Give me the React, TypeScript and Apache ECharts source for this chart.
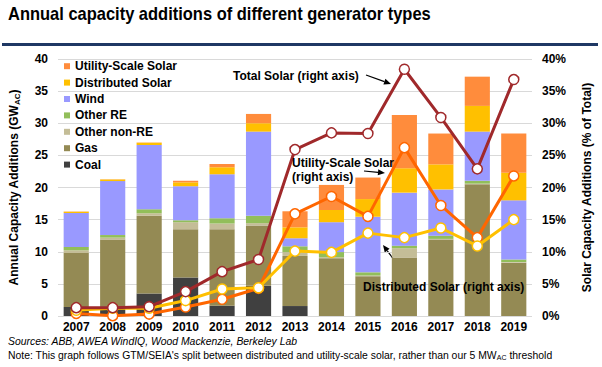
import React, { useEffect, useRef } from "react";
import * as echarts from "echarts";

const years = ["2007", "2008", "2009", "2010", "2011", "2012", "2013", "2014", "2015", "2016", "2017", "2018", "2019"];
const coal = [1.4, 1.5, 3.5, 6.0, 1.6, 4.7, 1.55, 0, 0, 0, 0, 0, 0];
const gas = [8.4, 10.4, 12.1, 7.5, 11.9, 9.4, 7.8, 9.0, 6.2, 9.1, 11.9, 20.5, 8.3];
const otherNonRE = [0.45, 0.3, 0.4, 1.1, 0.9, 0.35, 0.6, 0.15, 0.1, 1.45, 0.1, 0.1, 0.1];
const otherRE = [0.5, 0.4, 0.6, 0.3, 0.8, 1.15, 0.9, 0.8, 0.5, 0.4, 0.5, 0.45, 0.4];
const wind = [5.3, 8.4, 10.0, 5.3, 6.85, 13.1, 1.25, 4.65, 8.65, 8.25, 7.2, 7.65, 9.2];
const distSolar = [0.17, 0.25, 0.35, 0.6, 1.1, 1.3, 1.7, 1.9, 2.75, 3.8, 3.9, 4.0, 4.3];
const utilSolar = [0.06, 0.03, 0.05, 0.25, 0.5, 1.45, 2.5, 3.9, 3.35, 8.3, 4.8, 4.55, 6.1];

const totalSolarPct = [1.3, 1.3, 1.45, 3.8, 6.9, 8.8, 25.9, 28.5, 28.4, 38.4, 30.9, 22.9, 36.8];
const utilSolarPct = [0.4, 0.05, 0.3, 1.4, 2.6, 4.3, 15.9, 18.6, 15.5, 26.2, 17.2, 12.2, 21.8];
const distSolarPct = [0.9, 1.2, 1.2, 2.4, 4.2, 4.4, 10.1, 9.9, 12.9, 12.2, 13.7, 10.9, 15.0];

const leftTicks = { min: 0, max: 40, interval: 5 };
const rightTicks = { min: 0, max: 40, interval: 5 };

const FONT = "Liberation Sans, Arial, sans-serif";

function arrow(x1: number, y1: number, x2: number, y2: number) {
  const dx = x2 - x1;
  const dy = y2 - y1;
  const len = Math.sqrt(dx * dx + dy * dy);
  const ux = dx / len;
  const uy = dy / len;
  const L = 7;
  const W = 3;
  const bx = x2 - ux * L;
  const by = y2 - uy * L;
  return {
    type: "group",
    children: [
      { type: "line", shape: { x1, y1, x2: bx, y2: by }, style: { stroke: "#000", lineWidth: 1.2 } },
      {
        type: "polygon",
        shape: { points: [[x2, y2], [bx - uy * W, by + ux * W], [bx + uy * W, by - ux * W]] },
        style: { fill: "#000" },
      },
    ],
  };
}

function barSeries(name: string, data: number[], color: string) {
  return {
    name,
    type: "bar",
    stack: "cap",
    data,
    barCategoryGap: "31%",
    itemStyle: { color },
    z: 2,
  };
}

function lineSeries(name: string, data: number[], color: string, z: number) {
  return {
    name,
    type: "line",
    yAxisIndex: 1,
    data,
    symbol: "circle",
    symbolSize: 10,
    lineStyle: { color, width: 3 },
    itemStyle: { color: "#fff", borderColor: color, borderWidth: 1.5 },
    z,
  };
}

export default function App() {
  const ref = useRef<HTMLDivElement>(null);
  useEffect(() => {
    const chart = echarts.init(ref.current!, null, { renderer: "svg" });
    const option = {
      animation: false,
      backgroundColor: "#fff",
      textStyle: { fontFamily: FONT },
      grid: { left: 56, right: 70, top: 59, bottom: 51 },
      legend: {
        orient: "vertical",
        left: 64,
        top: 58,
        padding: 0,
        itemWidth: 6,
        itemHeight: 6,
        itemGap: 0,
        itemTextGap: 3,
        icon: "rect",
        textStyle: { fontFamily: FONT, fontSize: 12, fontWeight: "bold", color: "#000", lineHeight: 16.4 },
        data: ["Utility-Scale Solar", "Distributed Solar", "Wind", "Other RE", "Other non-RE", "Gas", "Coal"],
      },
      xAxis: {
        type: "category",
        data: years,
        axisLine: { show: false },
        axisTick: { show: false },
        axisLabel: { color: "#000", fontWeight: "bold", fontSize: 12, margin: 5, fontFamily: FONT },
      },
      yAxis: [
        {
          type: "value",
          ...leftTicks,
          axisLine: { show: false },
          axisTick: { show: false },
          splitLine: { lineStyle: { color: "#D9D9D9", width: 1 } },
          axisLabel: { color: "#000", fontWeight: "bold", fontSize: 12, margin: 10, fontFamily: FONT },
          name: "{a|Annual Capacity Additions (GW}{s|AC}{a|)}",
          nameLocation: "middle",
          nameGap: 37,
          nameRotate: 90,
          nameTextStyle: {
            rich: {
              a: { fontFamily: FONT, fontSize: 12, fontWeight: "bold", color: "#000" },
              s: { fontFamily: FONT, fontSize: 8, fontWeight: "bold", color: "#000", padding: [6, 0, 0, 0] },
            },
          },
        },
        {
          type: "value",
          ...rightTicks,
          axisLine: { show: false },
          axisTick: { show: false },
          splitLine: { show: false },
          axisLabel: { color: "#000", fontWeight: "bold", fontSize: 12, margin: 10, formatter: "{value}%", fontFamily: FONT },
          name: "Solar Capacity Additions (% of Total)",
          nameLocation: "middle",
          nameGap: 49,
          nameRotate: 90,
          nameTextStyle: { fontFamily: FONT, fontSize: 12, fontWeight: "bold", color: "#000" },
        },
      ],
      series: [
        barSeries("Coal", coal, "#404040"),
        barSeries("Gas", gas, "#948A54"),
        barSeries("Other non-RE", otherNonRE, "#C4BD97"),
        barSeries("Other RE", otherRE, "#92BE5A"),
        barSeries("Wind", wind, "#9999FF"),
        barSeries("Distributed Solar", distSolar, "#FFC000"),
        barSeries("Utility-Scale Solar", utilSolar, "#FF8C3C"),
        lineSeries("Utility-Scale Solar %", utilSolarPct, "#FF6600", 5),
        lineSeries("Distributed Solar %", distSolarPct, "#FFC000", 6),
        lineSeries("Total Solar %", totalSolarPct, "#A0292B", 7),
      ],
      graphic: [
        {
          type: "text",
          x: 8,
          y: 14,
          scaleX: 0.915,
          style: {
            text: "Annual capacity additions of different generator types",
            font: "bold 18px " + FONT,
            fill: "#000",
            textVerticalAlign: "middle",
          },
        },
        { type: "rect", shape: { x: 2, y: 43, width: 596, height: 3 }, style: { fill: "#1F3864" } },
        {
          type: "text",
          x: 233,
          y: 76,
          z: 10,
          style: { text: "Total Solar (right axis)", font: "bold 12px " + FONT, fill: "#000", textVerticalAlign: "middle" },
        },
        {
          type: "text",
          x: 292,
          y: 163,
          z: 10,
          style: { text: "Utility-Scale Solar", font: "bold 12px " + FONT, fill: "#000", textVerticalAlign: "middle" },
        },
        {
          type: "text",
          x: 292,
          y: 177,
          z: 10,
          style: { text: "(right axis)", font: "bold 12px " + FONT, fill: "#000", textVerticalAlign: "middle" },
        },
        {
          type: "text",
          x: 363,
          y: 287,
          z: 10,
          style: { text: "Distributed Solar (right axis)", font: "bold 12px " + FONT, fill: "#000", textVerticalAlign: "middle" },
        },
        { ...arrow(366, 75, 391, 84), z: 10 },
        { ...arrow(364, 171, 385, 173), z: 10 },
        { ...arrow(403, 272, 383, 245), z: 10 },
        {
          type: "text",
          x: 8,
          y: 341,
          style: {
            text: "Sources: ABB, AWEA WindIQ, Wood Mackenzie, Berkeley Lab",
            font: "italic 10.4px " + FONT,
            fill: "#000",
            textVerticalAlign: "middle",
          },
        },
        {
          type: "text",
          x: 8,
          y: 355,
          style: {
            text: "{a|Note: This graph follows GTM/SEIA's split between distributed and utility-scale solar, rather than our 5 MW}{s|AC}{a| threshold}",
            textVerticalAlign: "middle",
            rich: {
              a: { fontFamily: FONT, fontSize: 10.4, fill: "#000", color: "#000" },
              s: { fontFamily: FONT, fontSize: 7, fill: "#000", color: "#000", padding: [5, 0, 0, 0] },
            },
          },
        },
      ],
    };
    chart.setOption(option as any);
    return () => chart.dispose();
  }, []);
  return (
    <div
      ref={ref}
      style={{ position: "fixed", left: 0, top: 0, width: 602, height: 367, background: "#fff" }}
    />
  );
}
